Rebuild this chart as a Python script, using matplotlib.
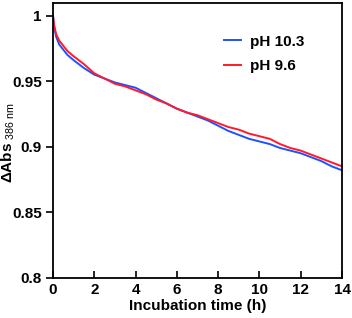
import matplotlib
matplotlib.use("Agg")
import matplotlib.pyplot as plt

plt.rcParams["font.family"] = ["Liberation Sans", "DejaVu Sans"]
plt.rcParams["mathtext.fontset"] = "custom"
plt.rcParams["mathtext.rm"] = "Liberation Sans"
plt.rcParams["mathtext.bf"] = "Liberation Sans:bold"

# Absorbance decay at 386 nm
time_h = [0, 0.05, 0.15, 0.3, 0.5, 0.7, 1.0, 1.5, 2.0, 2.5, 3.0, 3.5, 4.0,
          4.5, 5.0, 5.5, 6.0, 6.5, 7.0, 7.5, 8.0, 8.5, 9.0, 9.5, 10.0, 10.5,
          11.0, 11.5, 12.0, 12.5, 13.0, 13.5, 14.0]
abs_ph103 = [1.0, 0.992, 0.984, 0.978, 0.974, 0.970, 0.966, 0.960, 0.955,
             0.952, 0.949, 0.947, 0.945, 0.941, 0.937, 0.933, 0.929, 0.926,
             0.923, 0.920, 0.916, 0.912, 0.909, 0.906, 0.904, 0.902, 0.899,
             0.897, 0.895, 0.892, 0.889, 0.885, 0.882]
abs_ph96 = [1.0, 0.993, 0.986, 0.981, 0.977, 0.973, 0.969, 0.963, 0.956,
            0.952, 0.948, 0.946, 0.943, 0.940, 0.936, 0.933, 0.929, 0.926,
            0.924, 0.921, 0.918, 0.915, 0.913, 0.910, 0.908, 0.906, 0.902,
            0.899, 0.897, 0.894, 0.891, 0.888, 0.885]

x_ticks = [0, 2, 4, 6, 8, 10, 12, 14]
y_ticks = [0.8, 0.85, 0.9, 0.95, 1.0]
y_labels = ["0.8", "0.85", "0.9", "0.95", "1"]

fig = plt.figure(figsize=(3.52, 3.18), dpi=100)
ax = fig.add_axes([0.1506, 0.1267, 0.821, 0.864])

ax.plot(time_h, abs_ph103, color="#2050ff", lw=1.4, label="pH 10.3")
ax.plot(time_h, abs_ph96, color="#ff1a2a", lw=1.4, label="pH 9.6")

ax.set_xlim(0, 14)
ax.set_ylim(0.8, 1.0097)
ax.set_xticks(x_ticks)
ax.set_xticklabels([str(t) for t in x_ticks], fontweight="bold", fontsize=11)
ax.set_yticks(y_ticks)
ax.set_yticklabels(y_labels, fontweight="bold", fontsize=11)
ax.tick_params(axis="x", direction="in", length=5, width=1.2, pad=4)
ax.tick_params(axis="y", direction="out", length=5, width=1.2, pad=3)
for s in ax.spines.values():
    s.set_linewidth(1.3)

ax.set_xlabel("Incubation time (h)", fontweight="bold", fontsize=11, labelpad=1)

# y label placed by hand so it sits at the left edge like the original
fig.text(8 / 352, 1 - 143 / 318, r"$\mathbf{\Delta Abs}_{\mathrm{\ 386\ nm}}$",
         rotation=90, ha="center", va="center", fontsize=11)

ax.legend(loc="upper left", bbox_to_anchor=(0.545, 0.935), frameon=False,
          handlelength=1.1, handletextpad=0.6, labelspacing=0.7,
          prop={"weight": "bold", "size": 11})

fig.savefig("out.png", dpi=100)
